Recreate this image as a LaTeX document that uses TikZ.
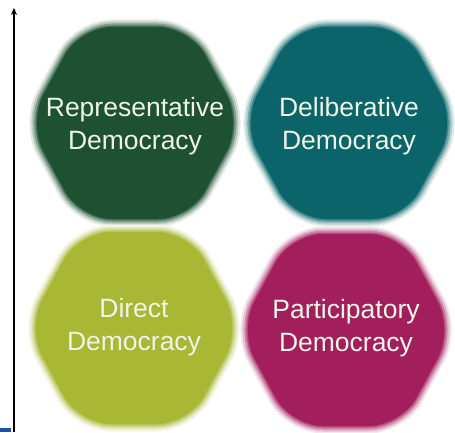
\documentclass[tikz,border=0pt]{standalone}
\usepackage{fontspec}
\setmainfont{Liberation Sans}
\usetikzlibrary{arrows.meta}

\definecolor{repgreen}{RGB}{30,80,50}
\definecolor{delteal}{RGB}{10,100,105}
\definecolor{dirlime}{RGB}{168,183,52}
\definecolor{parmagenta}{RGB}{162,30,92}
\definecolor{labeltext}{RGB}{238,245,232}
\definecolor{cornerblue}{RGB}{30,80,170}

% soft hexagon: centre x, centre y, colour
\newcommand{\softhex}[3]{%
  \foreach \w/\p in {15/12, 11/30, 7/55, 3/80}
    \draw[#3!\p!white, line width=\w pt, rounded corners=32pt, line join=round]
      (#1-55,#2+96) -- (#1+55,#2+96) -- (#1+107,#2) -- (#1+55,#2-96)
      -- (#1-55,#2-96) -- (#1-107,#2) -- cycle;
  \fill[#3, rounded corners=32pt]
      (#1-55,#2+96) -- (#1+55,#2+96) -- (#1+107,#2) -- (#1+55,#2-96)
      -- (#1-55,#2-96) -- (#1-107,#2) -- cycle;
}

\begin{document}
\begin{tikzpicture}[x=1pt, y=1pt, main/.style = {text=labeltext, align=center, font=\fontsize{26.5}{33}\selectfont}]

	\useasboundingbox (0,0) rectangle (455,432);

	\softhex{135}{309}{repgreen}
	\softhex{349}{309}{delteal}
	\softhex{134}{104}{dirlime}
	\softhex{346}{102}{parmagenta}

	\node[main] (1) at (135,306) {Representative\\Democracy};
	\node[main] (2) at (349,306) {Deliberative\\Democracy};
	\node[main] (3) at (134,105) {Direct\\Democracy};
	\node[main] (4) at (346,104) {Participatory\\Democracy};

	% vertical axis
	\coordinate (b) at (14,0);
	\coordinate (t) at (14,424);
	\draw[line width=1.3pt, -{Stealth[length=7pt, width=6pt]}] (b) -- (t);

	\fill[cornerblue] (0,0) rectangle (11,4);
\end{tikzpicture}
\end{document}
